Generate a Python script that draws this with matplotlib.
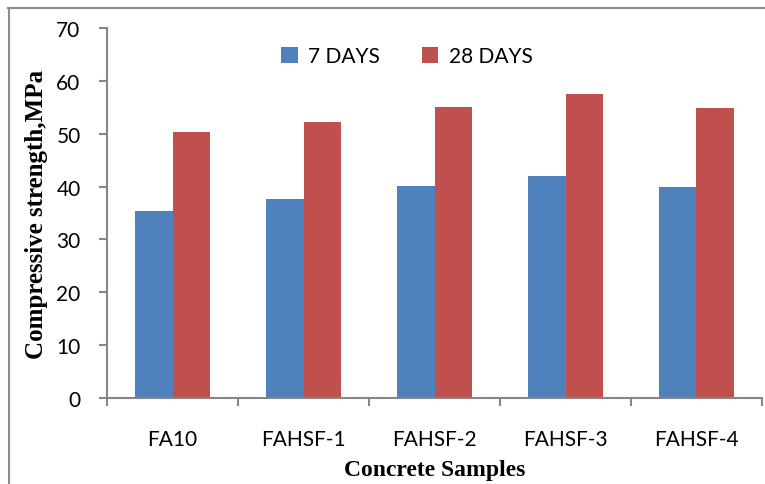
import numpy as np
import matplotlib
matplotlib.use('Agg')
import matplotlib.pyplot as plt
from matplotlib.lines import Line2D

# 抗压强度数据 (MPa)
samples = ['FA10', 'FAHSF-1', 'FAHSF-2', 'FAHSF-3', 'FAHSF-4']
days_7 = [35.4, 37.6, 40.1, 42.0, 39.9]
days_28 = [50.3, 52.2, 55.1, 57.5, 54.9]
series_names = ['7 DAYS', '28 DAYS']

blue = '#4F81BD'
red = '#C0504D'
grey = '#868686'

fig = plt.figure(figsize=(7.65, 4.85), dpi=100)
ax = fig.add_axes([107/765, 86/485, 655/765, 370/485])

x = np.arange(len(samples))
w = 0.29
ax.bar(x - w/2, days_7, w, color=blue, label=series_names[0])
ax.bar(x + w/2, days_28, w, color=red, label=series_names[1])

ax.set_xlim(-0.5, len(samples) - 0.5)
ax.set_ylim(0, 70)
ax.set_yticks(range(0, 71, 10))
ax.set_xticks(x)
ax.set_xticklabels(samples)
ax.set_xticks(np.arange(-0.5, len(samples), 1), minor=True)

for s in ['top', 'right']:
    ax.spines[s].set_visible(False)
for s in ['left', 'bottom']:
    ax.spines[s].set_color(grey)
    ax.spines[s].set_linewidth(1.5)

tick_font = 'Lato'
ax.tick_params(axis='y', length=6, width=1.5, color=grey, pad=13, labelsize=15)
ax.tick_params(axis='x', which='major', length=0, pad=22, labelsize=15)
ax.tick_params(axis='x', which='minor', length=6, width=1.5, color=grey)
for lab in ax.get_xticklabels() + ax.get_yticklabels():
    lab.set_fontfamily(tick_font)

# 坐标轴标题
ax.set_ylabel('Compressive strength,MPa', fontfamily='Liberation Serif',
              fontweight='bold', fontsize=18)
ax.yaxis.set_label_coords(-59/655, 0.5)
ax.set_xlabel('Concrete Samples', fontfamily='Liberation Serif',
              fontweight='bold', fontsize=17)
ax.xaxis.set_label_coords(0.5, -61/370)

leg = ax.legend(loc='center', bbox_to_anchor=(0.458, 0.924), ncol=2, frameon=False,
                prop={'family': tick_font, 'size': 15}, handlelength=0.8,
                handleheight=0.8, handletextpad=0.5, columnspacing=2.0)

# 图框 (左边和上边)
fig.add_artist(Line2D([8.5/765, 8.5/765], [0, 1 - 9/485], transform=fig.transFigure,
                      color='#8c8c8c', lw=1.5))
fig.add_artist(Line2D([8/765, 1], [1 - 9/485, 1 - 9/485], transform=fig.transFigure,
                      color='#8c8c8c', lw=1.5))

fig.savefig('out.png', dpi=100)
